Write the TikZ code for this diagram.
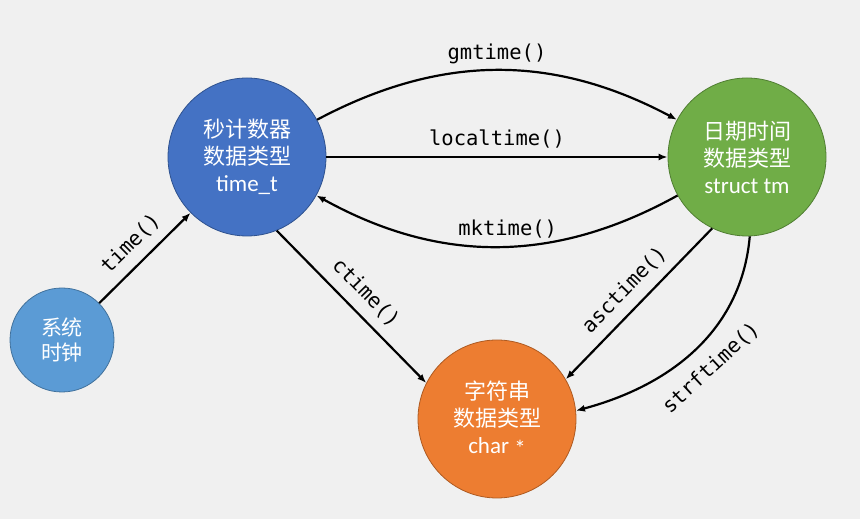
\documentclass[tikz,border=0pt]{standalone}
\usepackage{fontspec}
\setmainfont{Carlito}
\setmonofont{DejaVu Sans Mono}
\newfontfamily\cjk{Noto Sans CJK SC}
\usepackage{tikz}
\usetikzlibrary{arrows.meta}

\definecolor{bgc}{HTML}{F0F0F0}
\newcommand{\typename}[1]{{\fontsize{23}{27}\selectfont #1}}

\begin{document}
\begin{tikzpicture}[x=1pt, y=1pt,
        typecirc/.style={circle, minimum size=158pt, inner sep=0pt,
                line width=0.8pt, text=white, align=center,
                font=\fontsize{22}{27}\selectfont},
        arr/.style={-{Latex[length=9pt, width=7pt]}, line width=2.2pt},
        fnlabel/.style={font=\ttfamily\fontsize{20.5}{24}\selectfont, inner sep=2pt}
    ]

    % ---------------------------------------------------------------
    % BACKGROUND
    % ---------------------------------------------------------------
    \fill[bgc] (0,0) rectangle (860,519);
    \useasboundingbox (0,0) rectangle (860,519);

    % ---------------------------------------------------------------
    % NODES
    % ---------------------------------------------------------------

    % System clock
    \node[typecirc, minimum size=104pt, font=\fontsize{21}{25}\selectfont,
          fill={rgb,255:red,91;green,155;blue,213},
          draw={rgb,255:red,65;green,113;blue,156}] (clock) at (62,179)
        {{\cjk 系统}\\{\cjk 时钟}};

    % Seconds counter
    \node[typecirc, fill={rgb,255:red,68;green,114;blue,196},
          draw={rgb,255:red,47;green,82;blue,143}] (secs) at (247,362)
        {{\cjk 秒计数器}\\{\cjk 数据类型}\\\typename{time\_t}};

    % Date and time
    \node[typecirc, fill={rgb,255:red,112;green,173;blue,71},
          draw={rgb,255:red,80;green,126;blue,50}] (datetime) at (747,362)
        {{\cjk 日期时间}\\{\cjk 数据类型}\\\typename{struct tm}};

    % String
    \node[typecirc, fill={rgb,255:red,237;green,125;blue,49},
          draw={rgb,255:red,174;green,90;blue,33}] (string) at (497,100)
        {{\cjk 字符串}\\{\cjk 数据类型}\\\typename{char \raisebox{-0.3ex}{*}}};

    % ---------------------------------------------------------------
    % ARROWS
    % ---------------------------------------------------------------
    \draw[arr] (clock) -- node[fnlabel, midway, sloped, above=8pt] {time()} (secs);

    \draw[arr] (secs) to[bend left=28] node[fnlabel, midway, above=3pt] {gmtime()} (datetime);
    \draw[arr] (secs) -- node[fnlabel, midway, above=6pt] {localtime()} (datetime);
    \draw[arr] (datetime) to[bend left=29] node[fnlabel, pos=0.47, above=5pt] {mktime()} (secs);

    \draw[arr] (secs.-68) -- node[fnlabel, midway, sloped, above=8pt] {ctime()} (string.153);
    \draw[arr] (datetime.244) -- node[fnlabel, midway, sloped, above=8pt] {asctime()} (string.30);
    \draw[arr] (datetime.-88) to[out=-95, in=15]
        node[fnlabel, midway, sloped, below=12pt] {strftime()} (string.6);

\end{tikzpicture}
\end{document}
